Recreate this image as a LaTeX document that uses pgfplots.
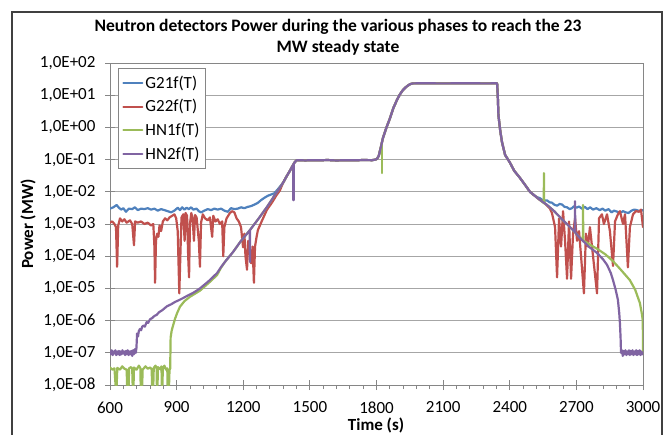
\documentclass[border=0pt]{standalone}
\usepackage{pgfplots}
\usepackage{pgfplotstable}
\pgfplotsset{compat=1.18}
\usepackage{fontspec}
\setmainfont{Carlito}
\definecolor{cB}{HTML}{4F81BD}
\definecolor{cR}{HTML}{C0504D}
\definecolor{cG}{HTML}{9BBB59}
\definecolor{cP}{HTML}{8064A2}
\definecolor{gridgray}{HTML}{A6A6A6}
\definecolor{axgray}{HTML}{868686}

\pgfplotstableread{
t v
1379 0.019
1395 0.030
1410 0.045
1420 0.060
1430 0.080
1440 0.095
1460 0.096
1480 0.094
1500 0.096
1540 0.095
1580 0.097
1620 0.094
1660 0.096
1700 0.095
1740 0.097
1780 0.096
1795 0.100
1802 0.105
1810 0.13
1820 0.25
1829 0.47
1845 1.0
1861 1.95
1876 4.0
1892 7.1
1905 10.5
1919 14.5
1935 18.5
1951 22.0
1965 23.3
2000 23.4
2100 23.3
2200 23.4
2300 23.3
2343 23.4
2346 10
2349 2.4
2357 0.8
2365 0.35
2379 0.14
2401 0.08
2420 0.045
2446 0.027
2470 0.016
2491 0.010
2505 0.0083
}\maindata

\begin{document}
\begin{tikzpicture}
\path[use as bounding box] (0pt,0pt) rectangle (668pt,434pt);
\draw[black!75, line width=1.6pt] (12pt,-20pt) rectangle (662pt,422pt);
\node[font=\fontsize{17.5}{21}\selectfont\bfseries, align=center] at (338pt,397pt)
  {Neutron detectors Power during the various phases to reach the 23\\MW steady state};
\node[font=\fontsize{17}{20}\selectfont\bfseries] at (376pt,9pt) {Time (s)};
\node[font=\fontsize{17}{20}\selectfont\bfseries, rotate=90] at (28pt,210pt) {Power (MW)};
\begin{axis}[
  at={(110pt,49pt)}, anchor=south west,
  scale only axis, width=533pt, height=322pt,
  xmin=600, xmax=3000, ymode=log, ymin=1e-8, ymax=1e2,
  xtick={600,900,...,3000}, minor x tick num=4,
  ytick={1e-8,1e-7,1e-6,1e-5,1e-4,1e-3,1e-2,1e-1,1e0,1e1,1e2},
  yticklabels={{1,0E-08},{1,0E-07},{1,0E-06},{1,0E-05},{1,0E-04},{1,0E-03},{1,0E-02},{1,0E-01},{1,0E+00},{1,0E+01},{1,0E+02}},
  yminorticks=false,
  ymajorgrids, grid style={gridgray, line width=0.9pt},
  axis line style={axgray, line width=0.9pt},
  tick style={axgray, line width=0.9pt},
  tick align=center, major tick length=10pt, minor tick length=4pt,
  every minor tick/.append style={yshift=-2pt},
  xtick pos=bottom, ytick pos=left,
  /pgf/number format/assume math mode=true,
  /pgf/number format/set thousands separator={},
  ticklabel style={font=\fontsize{17}{20}\selectfont},
  xticklabel style={yshift=-8pt},
  yticklabel style={xshift=-6pt},
  legend style={at={(0.015,0.984)}, anchor=north west, draw=axgray, line width=0.9pt, fill=white,
    font=\fontsize{17}{20}\selectfont, row sep=6pt, inner xsep=4pt, inner ysep=5pt},
  legend cell align=left,
  legend image code/.code={\draw[#1, line width=2pt] (0pt,0pt) -- (19pt,0pt);},
  every axis plot/.append style={line width=2.2pt, line join=round, line cap=round},
]
% ---------- G21f(T) ----------
\addplot[cB] table {
t v
600 3.0e-3
615 3.3e-3
630 3.9e-3
640 3.2e-3
650 2.8e-3
660 3.1e-3
672 2.4e-3
685 3.0e-3
700 2.9e-3
712 3.3e-3
725 2.7e-3
740 3.0e-3
755 2.9e-3
770 3.1e-3
785 2.8e-3
800 3.0e-3
815 2.6e-3
830 2.9e-3
845 2.7e-3
860 2.5e-3
875 2.3e-3
890 2.6e-3
905 3.2e-3
915 2.7e-3
925 3.3e-3
935 2.8e-3
945 3.2e-3
955 2.9e-3
965 3.3e-3
975 2.8e-3
990 3.0e-3
1000 2.5e-3
1010 2.3e-3
1025 2.6e-3
1040 2.9e-3
1055 2.7e-3
1070 3.0e-3
1085 2.8e-3
1100 3.0e-3
1115 2.6e-3
1130 2.4e-3
1145 3.1e-3
1160 2.9e-3
1175 3.0e-3
1190 3.3e-3
1205 3.1e-3
1220 3.4e-3
1235 3.6e-3
1250 4.0e-3
1265 4.5e-3
1280 5.5e-3
1295 6.5e-3
1310 7.5e-3
1340 9.0e-3
1360 0.013
1379 0.019
};
\addlegendentry{G21f(T)}
\addplot[cB, forget plot] table {\maindata};
\addplot[cB, forget plot] table {
t v
2505 8.3e-3
2520 7.0e-3
2536 6.3e-3
2550 5.4e-3
2568 5.4e-3
2580 4.7e-3
2590 4.6e-3
2600 4.0e-3
2613 3.7e-3
2625 4.2e-3
2636 4.0e-3
2647 3.4e-3
2658 3.3e-3
2670 2.9e-3
2680 3.1e-3
2690 3.6e-3
2700 3.2e-3
2712 3.5e-3
2725 3.0e-3
2738 3.4e-3
2750 2.9e-3
2762 3.3e-3
2775 2.8e-3
2790 3.1e-3
2805 2.7e-3
2818 3.0e-3
2830 2.6e-3
2845 2.9e-3
2858 2.3e-3
2870 2.6e-3
2885 2.4e-3
2896 2.2e-3
2910 2.5e-3
2922 2.3e-3
2935 2.2e-3
2948 2.6e-3
2960 2.8e-3
2972 2.7e-3
2985 2.5e-3
3000 2.7e-3
};
% ---------- G22f(T) ----------
\addplot[cR] table {
t v
600 1.1e-3
610 1.2e-3
620 1.0e-3
627 8e-4
632 4.7e-5
637 9e-4
645 1.5e-3
655 1.2e-3
665 1.4e-3
675 1.1e-3
690 1.3e-3
700 1.0e-3
708 2.2e-4
713 1.2e-3
725 1.1e-3
740 1.2e-3
755 1.0e-3
770 1.1e-3
785 9e-4
795 1.0e-3
800 2e-4
803 1.5e-5
807 3e-4
812 5e-4
818 4e-4
823 9e-4
830 6e-4
838 1.2e-3
848 1.5e-3
858 1.3e-3
868 1.6e-3
880 1.8e-3
890 2.0e-3
898 1.5e-3
905 6e-4
912 7e-6
918 2e-4
922 1.6e-3
930 2.0e-3
936 3e-4
940 2.2e-3
947 1.8e-3
952 1e-4
956 2.2e-5
960 1e-3
966 2.2e-3
972 1.5e-3
978 3e-4
983 1.9e-3
990 1.6e-3
1000 3e-4
1005 4.7e-5
1010 1.1e-3
1018 2.0e-3
1028 1.5e-3
1040 1.3e-3
1050 1.6e-3
1060 4e-4
1065 1.8e-3
1075 1.2e-3
1085 1.4e-3
1095 1.0e-3
1105 1.2e-3
1110 1e-4
1115 8e-4
1125 1.5e-3
1140 2.2e-3
1150 2.5e-3
1160 2.3e-3
1170 1.5e-3
1180 1.2e-3
1190 8e-4
1199 1.9e-4
1205 5e-4
1210 1e-4
1217 3.8e-5
1222 3e-4
1230 1.2e-4
1236 6e-5
1242 2e-4
1248 1.5e-5
1253 2e-4
1260 4e-4
1266 6.5e-4
1285 1.3e-3
1307 2.8e-3
1330 4.7e-3
1350 7.9e-3
1365 0.011
1379 0.019
};
\addlegendentry{G22f(T)}
\addplot[cR, forget plot] table {\maindata};
\addplot[cR, forget plot] table {
t v
2505 8.3e-3
2530 6.0e-3
2559 4.3e-3
2581 3.0e-3
2590 2.2e-3
2604 8e-4
2613 2.2e-5
2622 1.5e-3
2631 2e-4
2640 2.5e-3
2649 3e-4
2658 2e-5
2667 1.2e-3
2676 2e-5
2685 5e-4
2694 1.5e-3
2703 3e-4
2712 6e-4
2721 1e-4
2734 7e-6
2743 5e-4
2752 2e-4
2761 8e-4
2775 1e-4
2793 7e-6
2802 1.5e-3
2815 2.0e-3
2824 1.0e-3
2838 2.0e-3
2851 6e-4
2865 5e-5
2874 1.2e-3
2887 2.0e-3
2896 2.5e-3
2910 1.0e-3
2919 2.0e-3
2932 4.5e-5
2941 8e-4
2955 2.0e-3
2968 2.5e-3
2982 2.4e-3
2991 2.8e-3
3000 8e-4
};
% ---------- HN1f(T) ----------
\addplot[cG] table {
t v
600 3.5e-8
610 3.0e-8
620 3.3e-8
625 1e-8
630 1e-8
633 3.4e-8
645 3.0e-8
655 3.8e-8
665 3.2e-8
675 3.0e-8
677 1e-8
684 1e-8
686 3.3e-8
695 3.6e-8
700 3.2e-8
702 1e-8
706 1e-8
708 3.5e-8
720 3.0e-8
730 4.0e-8
737 3.3e-8
738 1e-8
745 1e-8
747 3.0e-8
760 3.8e-8
770 3.2e-8
780 3.5e-8
788 3.1e-8
789 1e-8
795 1e-8
797 3.4e-8
805 4.0e-8
810 3.2e-8
811 1e-8
814 1e-8
816 3.6e-8
825 3.1e-8
832 3.8e-8
833 1e-8
836 1e-8
838 3.2e-8
845 4.0e-8
852 3.0e-8
858 3.3e-8
859 1e-8
866 1e-8
868 3.0e-8
871 3.2e-8
873 3e-7
878 5e-7
884 7e-7
892 1.1e-6
902 1.7e-6
915 2.7e-6
935 4.0e-6
960 5.5e-6
1005 8.5e-6
1050 1.6e-5
1082 2.6e-5
1100 4.4e-5
1120 7e-5
1154 1.35e-4
1190 3e-4
1230 6.5e-4
1270 1.5e-3
1307 3.4e-3
1340 7.5e-3
1360 0.012
1379 0.019
};
\addlegendentry{HN1f(T)}
\addplot[cG, forget plot] table {\maindata};
\addplot[cG, forget plot] coordinates {(1825,0.35) (1825,0.038)};
\addplot[cG, forget plot] table {
t v
2505 8.3e-3
2530 6.0e-3
2553 4.5e-3
2554 0.038
2555 4.4e-3
2568 3.9e-3
2600 2.5e-3
2640 1.3e-3
2680 7e-4
2716 3.7e-4
2729 3.2e-4
2730 3.9e-3
2731 3.1e-4
2760 2.3e-4
2793 1.7e-4
2830 1.15e-4
2865 7e-5
2900 3.8e-5
2941 1.8e-5
2965 9e-6
2986 3.5e-6
2995 1.6e-6
2999 1e-6
3000 1e-7
};
% ---------- HN2f(T) ----------
\addplot[cP] table {
t v
600 1.1e-7
604 9e-8
608 1.2e-7
612 8.5e-8
616 1.1e-7
620 9.5e-8
624 1.2e-7
628 8.5e-8
632 1.1e-7
636 9e-8
640 1.15e-7
644 8.5e-8
648 1.1e-7
652 9e-8
656 1.2e-7
660 9.5e-8
664 1.1e-7
668 8.5e-8
672 1.15e-7
676 9e-8
680 1.2e-7
684 8.5e-8
688 1.1e-7
692 9e-8
696 1.15e-7
700 8e-8
704 1.2e-7
708 9e-8
712 1.3e-7
716 1.0e-7
719 1.4e-7
722 4e-7
726 3.2e-7
730 4.8e-7
735 5.5e-7
740 5.0e-7
745 6.5e-7
750 7e-7
757 6.5e-7
765 9e-7
772 8.5e-7
780 1.1e-6
790 1.2e-6
800 1.4e-6
810 1.5e-6
820 1.8e-6
835 2.1e-6
857 2.8e-6
875 3.2e-6
893 3.8e-6
910 4.3e-6
929 5e-6
950 6e-6
970 7e-6
990 8.5e-6
1005 1e-5
1025 1.3e-5
1045 1.7e-5
1065 2.3e-5
1082 3e-5
1100 4.6e-5
1120 7e-5
1154 1.35e-4
1190 3e-4
1229 6.3e-4
1230 6.6e-5
1231 6.6e-4
1270 1.5e-3
1307 3.4e-3
1340 7.5e-3
1360 0.012
1379 0.019
};
\addlegendentry{HN2f(T)}
\addplot[cP, forget plot] table {\maindata};
\addplot[cP, forget plot] coordinates {(1426,0.07) (1426,5.5e-3)};
\addplot[cP, forget plot] table {
t v
2505 8.3e-3
2530 6.0e-3
2568 3.9e-3
2600 2.5e-3
2640 1.3e-3
2680 7e-4
2693 5.6e-4
2694 5.1e-3
2695 5.4e-4
2716 3.7e-4
2755 2e-4
2793 1.26e-4
2820 8e-5
2838 5.4e-5
2855 3e-5
2865 1.8e-5
2877 9e-6
2887 4.4e-6
2893 1.7e-6
2896 8.5e-7
2899 3e-7
2901 1e-7
2905 1.2e-7
2909 8e-8
2913 1.15e-7
2917 9e-8
2921 1.2e-7
2925 8.5e-8
2929 1.1e-7
2933 9e-8
2937 1.2e-7
2941 8.5e-8
2945 1.15e-7
2949 9e-8
2953 1.2e-7
2957 8.5e-8
2961 1.1e-7
2965 9e-8
2969 1.2e-7
2973 8.5e-8
2977 1.15e-7
2981 9e-8
2985 1.2e-7
2989 8.5e-8
2993 1.1e-7
2997 9e-8
3000 1.0e-7
};
\end{axis}
\end{tikzpicture}
\end{document}
